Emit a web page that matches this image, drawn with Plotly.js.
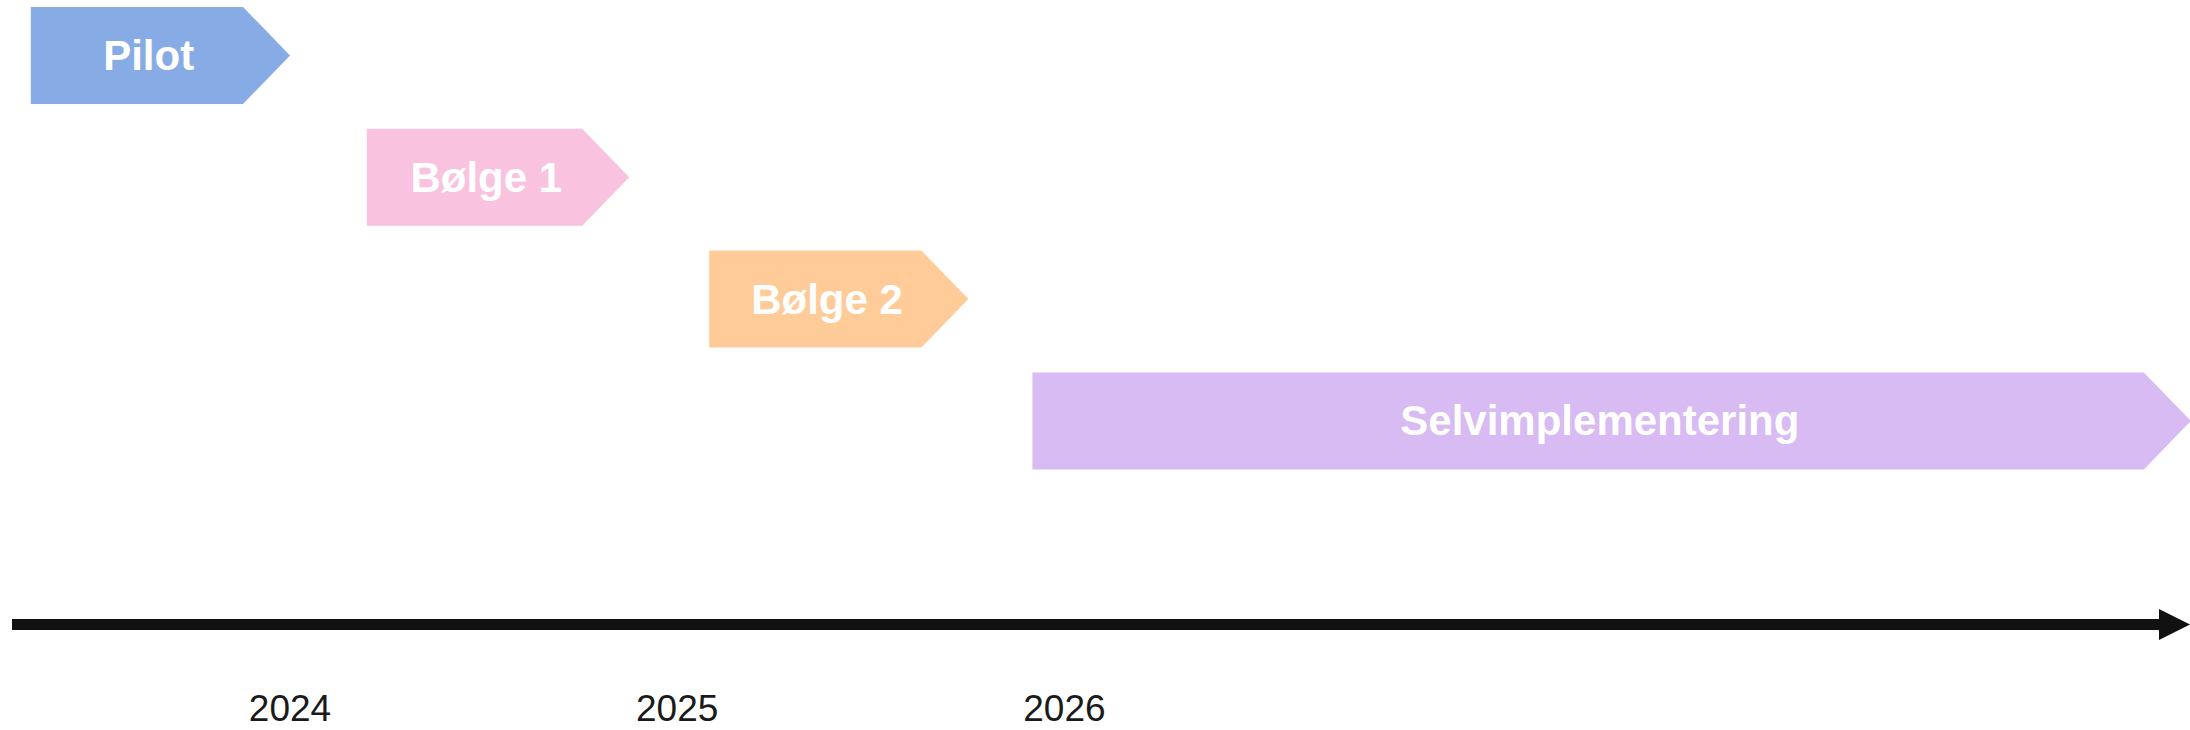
<!DOCTYPE html>
<html>
<head>
<meta charset="utf-8">
<script src="https://cdn.plot.ly/plotly-3.0.1.min.js"></script>
<style>html,body{margin:0;padding:0;background:#fff;}#chart{width:2190px;height:730px;}</style>
</head>
<body>
<div id="chart"></div>
<script>
// ---- data (timeline in months, 0 = start of 2024 label) ----
const phases = ['Pilot', 'Bølge 1', 'Bølge 2', 'Selvimplementering'];
const phaseStart = [-8.1, 2.4, 13.1, 23.2];
const phaseEnd = [0.0, 10.6, 21.2, 59.4];
const phaseRow = [0, 1, 2, 3];
const phaseColors = ['#87ACE5', '#F9C3E0', '#FFCC99', '#D7BBF2'];
const yearLabels = ['2024', '2025', '2026'];
const yearPos = [0.0, 12.1, 24.2];

// ---- styling / geometry ----
const W = 2190, H = 730;
const pxPerUnit = 32;
const xRange = [-290 / pxPerUnit, (W - 290) / pxPerUnit];
const rowPx = 121.8, row0Px = 55.5;
const yRange = [(H - row0Px) / rowPx, -row0Px / rowPx];
const halfH = 0.398;            // half bar height in row units
const tip = 47 / pxPerUnit;     // arrow tip depth in x units
const textShift = 4 / rowPx;    // small downward nudge for label baseline
const axisRow = (624.5 - row0Px) / rowPx;
const yearRow = (712 - row0Px) / rowPx;

const traces = [];
phases.forEach((name, i) => {
  const s = phaseStart[i], e = phaseEnd[i], r = phaseRow[i];
  traces.push({
    type: 'scatter', mode: 'lines', fill: 'toself',
    x: [s, e - tip, e, e - tip, s, s],
    y: [r - halfH, r - halfH, r, r + halfH, r + halfH, r - halfH],
    line: {width: 0, color: phaseColors[i]},
    fillcolor: phaseColors[i],
    hoverinfo: 'skip', showlegend: false
  });
});
traces.push({
  type: 'scatter', mode: 'text',
  x: phases.map((_, i) => (phaseStart[i] + phaseEnd[i] - tip / 2) / 2),
  y: phaseRow.map(r => r + textShift),
  text: phases,
  textposition: 'middle center',
  textfont: {family: 'Liberation Sans, Arial, sans-serif', size: 42, color: '#ffffff', weight: 700},
  hoverinfo: 'skip', showlegend: false, cliponaxis: false
});
traces.push({
  type: 'scatter', mode: 'text',
  x: yearPos,
  y: yearPos.map(() => yearRow),
  text: yearLabels,
  textposition: 'middle center',
  textfont: {family: 'Liberation Sans, Arial, sans-serif', size: 37, color: '#1a1a1a'},
  hoverinfo: 'skip', showlegend: false, cliponaxis: false
});

const lineStartX = xRange[0] + 12 / pxPerUnit;
const headStartX = xRange[1] - 31 / pxPerUnit;
const headHalf = 15.5 / rowPx;

const layout = {
  width: W, height: H,
  margin: {l: 0, r: 0, t: 0, b: 0, pad: 0},
  paper_bgcolor: '#ffffff', plot_bgcolor: '#ffffff',
  xaxis: {range: xRange, visible: false, fixedrange: true},
  yaxis: {range: yRange, visible: false, fixedrange: true},
  showlegend: false,
  shapes: [
    {type: 'line', xref: 'x', yref: 'y', x0: lineStartX, x1: headStartX + 0.05, y0: axisRow, y1: axisRow,
     line: {color: '#111111', width: 11}},
    {type: 'path', xref: 'x', yref: 'y',
     path: `M ${headStartX},${axisRow - headHalf} L ${xRange[1]},${axisRow} L ${headStartX},${axisRow + headHalf} Z`,
     fillcolor: '#111111', line: {width: 0}}
  ]
};

Plotly.newPlot('chart', traces, layout, {displayModeBar: false, staticPlot: true});
</script>
</body>
</html>
